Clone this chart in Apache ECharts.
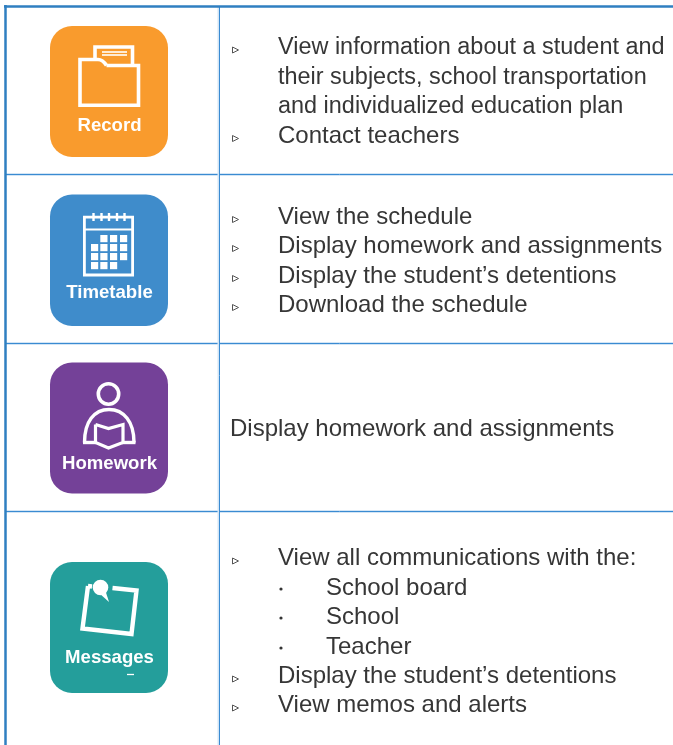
<!DOCTYPE html>
<html>
<head>
<meta charset="utf-8">
<title>Parent portal sections</title>
<style>
html, body { margin: 0; padding: 0; background: #fff; }
#main { width: 673px; height: 745px; }
</style>
<script src="https://cdn.jsdelivr.net/npm/echarts@6/dist/echarts.min.js"></script>
</head>
<body>
<div id="main"></div>
<script>
var cardLabels = ['Record', 'Timetable', 'Homework', 'Messages'];
var recordLines = ['View information about a student and', 'their subjects, school transportation', 'and individualized education plan', 'Contact teachers'];
var timetableLines = ['View the schedule', 'Display homework and assignments', 'Display the student\u2019s detentions', 'Download the schedule'];
var homeworkLine = 'Display homework and assignments';
var messagesLines = ['View all communications with the:', 'School board', 'School', 'Teacher', 'Display the student\u2019s detentions', 'View memos and alerts'];

var chart = echarts.init(document.getElementById('main'));
var els = [];
var FONT = '"Liberation Sans", Arial, sans-serif';
var WHITE = '#fff';
var RULE = '#3a8bd2';
var HALO = '#d3e5f5';

function line(x1, y1, x2, y2, color, w) {
    els.push({ type: 'line', shape: { x1: x1, y1: y1, x2: x2, y2: y2 }, style: { stroke: color, lineWidth: w } });
}
function poly(points, w) {
    els.push({ type: 'polyline', shape: { points: points }, style: { fill: 'none', stroke: WHITE, lineWidth: w } });
}
function curve(x1, y1, cx1, cy1, cx2, cy2, x2, y2, w) {
    els.push({ type: 'bezierCurve', shape: { x1: x1, y1: y1, cpx1: cx1, cpy1: cy1, cpx2: cx2, cpy2: cy2, x2: x2, y2: y2 }, style: { fill: 'none', stroke: WHITE, lineWidth: w } });
}
function box(x, y, w, h, r, color) {
    els.push({ type: 'rect', shape: { x: x, y: y, width: w, height: h, r: r }, style: { fill: color } });
}
function text(str, x, y, font, color, align) {
    els.push({ type: 'text', style: { text: str, x: x, y: y, font: font, fill: color, textAlign: align || 'left', textVerticalAlign: 'middle' } });
}
function triangle(y) {
    els.push({ type: 'polygon', shape: { points: [[232.5, y - 3], [238.5, y], [232.5, y + 3]] }, style: { fill: '#fff', stroke: '#555', lineWidth: 1 } });
}
function dot(y) {
    els.push({ type: 'circle', shape: { cx: 281, cy: y, r: 1.6 }, style: { fill: '#333' } });
}
function body(str, y, x, size) {
    text(str, x, y, (size || 24) + 'px ' + FONT, '#363636');
}
function hRule(y) {
    line(6, y, 673, y, HALO, 3);
    line(6, y, 673, y, RULE, 1);
}

// table rules
hRule(174.5);
hRule(343.5);
hRule(511.5);
line(218.5, 6, 218.5, 745, HALO, 2);
line(219.5, 6, 219.5, 745, RULE, 1);
line(4, 6.5, 673, 6.5, '#2f7fc1', 2.5);
line(5.5, 5, 5.5, 745, '#2f7fc1', 2.5);

// cards
box(50, 26, 118, 131, 22, '#f99b2d');
box(50, 194.5, 118, 131.5, 22, '#3f8ccb');
box(50, 362.5, 118, 131, 22, '#744198');
box(50, 562, 118, 131, 22, '#249e9b');

// record icon
poly([[95, 58], [95, 47], [132.5, 47], [132.5, 65]], 3.6);
poly([[106.5, 65.5], [138.5, 65.5], [138.5, 105.2], [80, 105.2], [80, 59.5], [98, 59.5]], 3.6);
curve(98, 59.5, 101, 59.5, 104, 61.5, 106.5, 65.5, 3.6);
line(102, 52, 127, 52, WHITE, 1.6);
line(102, 55, 127, 55, WHITE, 1.6);

// timetable icon
els.push({ type: 'rect', shape: { x: 84.4, y: 217.2, width: 48.2, height: 57.8 }, style: { fill: 'none', stroke: WHITE, lineWidth: 2.8 } });
line(84, 229.5, 133, 229.5, WHITE, 2.2);
[93.5, 101.5, 109, 117, 124.5].forEach(function (x) {
    line(x, 213, x, 221, WHITE, 2.4);
});
var cellX = [91, 100.3, 110, 120];
var cellY = [235, 244, 253, 262];
var cellRows = [[1, 2, 3], [0, 1, 2, 3], [0, 1, 2, 3], [0, 1, 2]];
cellRows.forEach(function (cols, r) {
    cols.forEach(function (c) {
        box(cellX[c], cellY[r], 7.2, 7.2, 0, WHITE);
    });
});

// homework icon
els.push({ type: 'circle', shape: { cx: 108.5, cy: 394, r: 10.2 }, style: { fill: 'none', stroke: WHITE, lineWidth: 3.6 } });
curve(84.5, 442.5, 84.5, 422, 94, 409.5, 109, 409.5, 3.4);
curve(109, 409.5, 124, 409.5, 134, 422, 134, 442.5, 3.4);
line(83, 442.5, 96, 442.5, WHITE, 3.4);
line(122, 442.5, 135.5, 442.5, WHITE, 3.4);
poly([[95.5, 424.5], [108.5, 428.5], [123, 424.5], [123, 442.5], [108.5, 448], [95.5, 442.5], [95.5, 424.5]], 3.2);

// messages icon
poly([[88, 586], [92, 586.5]], 4.4);
poly([[88, 586], [82.5, 628.5], [131.5, 634], [136.5, 590.5], [112.5, 588]], 4.4);
els.push({ type: 'circle', shape: { cx: 100.5, cy: 587.5, r: 7.8 }, style: { fill: WHITE } });
els.push({ type: 'polygon', shape: { points: [[99, 593], [105.5, 591], [109, 602]] }, style: { fill: WHITE } });
line(127, 674.5, 134, 674.5, WHITE, 1.3);

// card labels
var labelY = [126, 293, 463.5, 657.5];
cardLabels.forEach(function (label, i) {
    text(label, 109.5, labelY[i], 'bold 18.6px ' + FONT, WHITE, 'center');
});

// right column
var recordY = [48, 78, 107, 136];
recordLines.forEach(function (s, i) {
    body(s, recordY[i], 278, i < 3 ? 23.45 : 24);
});
triangle(50);
triangle(138.5);

var timetableY = [217, 246, 276, 305];
timetableLines.forEach(function (s, i) {
    body(s, timetableY[i], 278);
    triangle(timetableY[i] + 2.5);
});

body(homeworkLine, 429, 230);

var messagesY = [558, 588, 617, 647, 676, 705];
messagesLines.forEach(function (s, i) {
    var sub = i >= 1 && i <= 3;
    body(s, messagesY[i], sub ? 326 : 278);
    if (sub) {
        dot(messagesY[i] + 1);
    } else {
        triangle(messagesY[i] + 3);
    }
});

chart.setOption({
    animation: false,
    backgroundColor: '#fff',
    graphic: { elements: els }
});
</script>
</body>
</html>
